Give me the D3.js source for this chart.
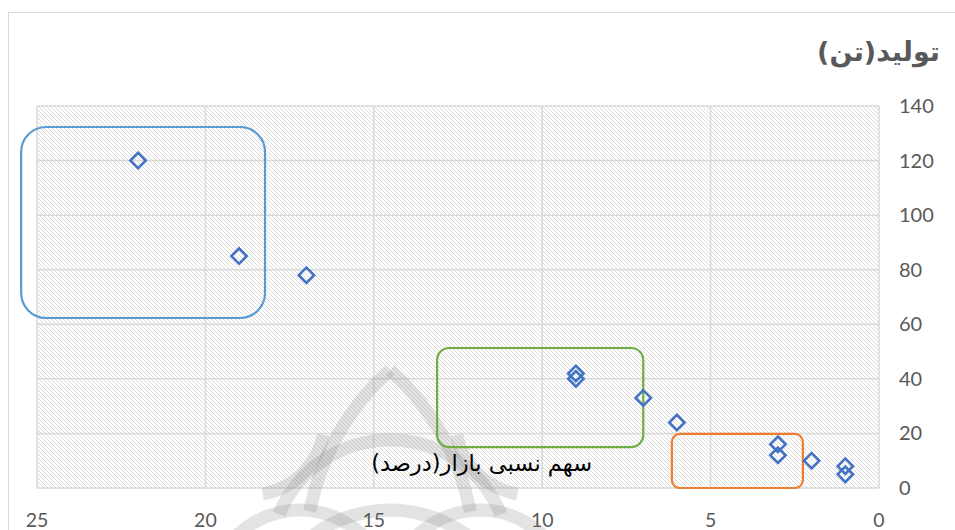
<!DOCTYPE html>
<html><head><meta charset="utf-8">
<script src="https://cdn.jsdelivr.net/npm/d3@7"></script>
<style>body{margin:0;background:#fff}svg{display:block}</style>
</head><body><svg id="c" width="955" height="530"></svg>
<script>
// Data
const share = [22, 19, 17, 9, 9, 7, 6, 3, 3, 2, 1, 1];          // سهم نسبی بازار (درصد)
const production = [120, 85, 78, 42, 40, 33, 24, 16, 12, 10, 8, 5]; // تولید (تن)
const xTicks = [25, 20, 15, 10, 5, 0];
const yTicks = [0, 20, 40, 60, 80, 100, 120, 140];
const groupNames = ["blue", "green", "orange"];
const groupX0 = [25.47, 13.12, 6.15];
const groupX1 = [18.23, 7.0, 2.26];
const groupY0 = [132.3, 51.3, 19.8];
const groupY1 = [62.3, 15.0, 0];
const groupColors = ["#5b9bd5", "#70ad47", "#ed7d31"];
const groupRadius = [25, 12, 8];
const xTitle = "سهم نسبی بازار(درصد)";
const yTitle = "تولید(تن)";

const svg = d3.select("#c");
const x = d3.scaleLinear().domain([25, 0]).range([37, 879]);
const y = d3.scaleLinear().domain([0, 140]).range([488, 106]);

// chart border
svg.append("rect").attr("x", 8.5).attr("y", 12.5).attr("width", 960).attr("height", 540)
  .attr("fill", "#fff").attr("stroke", "#d9d9d9").attr("stroke-width", 1);

// hatch pattern
const defs = svg.append("defs");
const pat = defs.append("pattern").attr("id", "hatch").attr("patternUnits", "userSpaceOnUse")
  .attr("width", 4).attr("height", 4);
pat.append("rect").attr("width", 4).attr("height", 4).attr("fill", "#fff");
pat.append("path").attr("d", "M0,0 L4,4 M-1,3 L1,5 M3,-1 L5,1")
  .attr("stroke", "#dadada").attr("stroke-width", 1);

svg.append("rect").attr("x", x(25)).attr("y", y(140))
  .attr("width", x(0) - x(25)).attr("height", y(0) - y(140))
  .attr("fill", "url(#hatch)");

// gridlines
const grid = svg.append("g").attr("stroke", "#d9d9d9").attr("stroke-width", 1.5);
grid.selectAll(".gy").data(yTicks).join("line")
  .attr("x1", x(25)).attr("x2", x(0)).attr("y1", d => y(d)).attr("y2", d => y(d));
grid.selectAll(".gx").data(xTicks).join("line")
  .attr("y1", y(0)).attr("y2", y(140)).attr("x1", d => x(d)).attr("x2", d => x(d));

// watermark (faint ornament)
const wm = svg.append("g").attr("fill", "none").attr("stroke", "#8c8c8c")
  .attr("stroke-opacity", 0.24).attr("stroke-width", 13);
const wmArcs = [
  {cx: 560, cy: 560, r: 255, a0: -2.95, a1: -2.30},
  {cx: 220, cy: 560, r: 255, a0: -0.84, a1: -0.19},
  {cx: 390, cy: 560, r: 120, a0: -2.75, a1: -0.39},
  {cx: 250, cy: 420, r: 75, a0: 0.2, a1: 1.4},
  {cx: 530, cy: 420, r: 75, a0: 1.74, a1: 2.94},
  {cx: 300, cy: 600, r: 90, a0: -2.6, a1: -0.8},
  {cx: 480, cy: 600, r: 90, a0: -2.34, a1: -0.54},
  {cx: 390, cy: 640, r: 130, a0: -2.4, a1: -0.74}
];
wm.selectAll("path").data(wmArcs).join("path")
  .attr("d", d => {
    const p = d3.path();
    p.arc(d.cx, d.cy, d.r, d.a0, d.a1);
    return p.toString();
  });

// group boxes
svg.selectAll(".box").data(groupNames).join("rect")
  .attr("x", (d, i) => x(groupX0[i]))
  .attr("y", (d, i) => y(groupY0[i]))
  .attr("width", (d, i) => x(groupX1[i]) - x(groupX0[i]))
  .attr("height", (d, i) => y(groupY1[i]) - y(groupY0[i]))
  .attr("rx", (d, i) => groupRadius[i]).attr("ry", (d, i) => groupRadius[i])
  .attr("fill", "none").attr("stroke", (d, i) => groupColors[i]).attr("stroke-width", 2.2);

// points
const sym = d3.symbol().type(d3.symbolSquare).size(118);
svg.append("g").selectAll("path").data(share).join("path")
  .attr("d", sym)
  .attr("transform", (d, i) => `translate(${x(d)},${y(production[i])}) rotate(45)`)
  .attr("fill", "none").attr("stroke", "#4472c4").attr("stroke-width", 2.6);

// axes labels
const tickFont = "Lato, 'Open Sans', sans-serif";
svg.append("g").selectAll("text").data(xTicks).join("text")
  .attr("x", d => x(d)).attr("y", 527).attr("text-anchor", "middle")
  .attr("font-family", tickFont).attr("font-size", 19.5).attr("fill", "#595959")
  .text(d => d);
svg.append("g").selectAll("text").data(yTicks).join("text")
  .attr("x", 899).attr("y", d => y(d) + 7).attr("text-anchor", "start")
  .attr("font-family", tickFont).attr("font-size", 20).attr("fill", "#595959")
  .text(d => d);

// titles
svg.append("text").attr("x", 940).attr("y", 61).attr("text-anchor", "start")
  .attr("direction", "rtl")
  .attr("font-family", "'DejaVu Sans', sans-serif").attr("font-weight", "bold")
  .attr("font-size", 27).attr("fill", "#595959").text(yTitle);
svg.append("text").attr("x", 592).attr("y", 471).attr("text-anchor", "start")
  .attr("direction", "rtl")
  .attr("font-family", "'DejaVu Sans', sans-serif")
  .attr("font-size", 22.5).attr("fill", "#000").text(xTitle);
</script></body></html>
